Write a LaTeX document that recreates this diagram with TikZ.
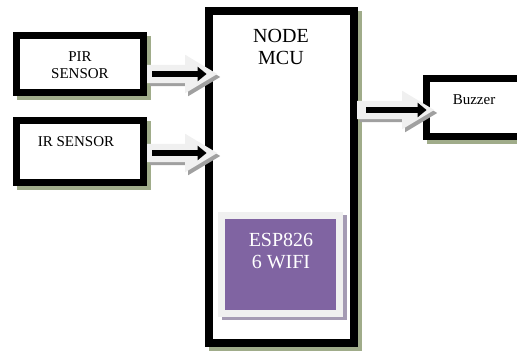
\documentclass[tikz,border=0pt]{standalone}
\usepackage{fontspec}
\setmainfont{Liberation Serif}
\usetikzlibrary{shapes.arrows,arrows.meta}
\definecolor{boxshadow}{RGB}{160,172,138}
\definecolor{arrowfill}{RGB}{240,240,240}
\definecolor{arrowshadow}{RGB}{160,160,160}
\definecolor{esppurple}{RGB}{128,100,162}
\definecolor{espshadow}{RGB}{165,155,180}
\tikzset{
    unitbox/.style={draw=black, fill=white, line width=7pt,
        preaction={draw=boxshadow, fill=boxshadow,
            transform canvas={xshift=3.5pt, yshift=-4pt}}},
    smalltext/.style={font=\fontsize{15}{17.5}\selectfont, align=center},
    bigtext/.style={font=\fontsize{20}{21.5}\selectfont, align=center},
    blockarr/.style={single arrow, fill=arrowfill, inner xsep=0pt, inner ysep=9pt,
        single arrow head extend=10pt, single arrow tip angle=62,
        minimum height=70pt, minimum width=38pt, anchor=tail,
        preaction={fill=arrowshadow, transform canvas={xshift=3pt, yshift=-3pt}}},
    signal/.style={-{Triangle[length=9pt,width=14pt]}, line width=5.5pt, black}
}
\begin{document}
\begin{tikzpicture}[x=1pt, y=-1pt]
        % Page frame, the buzzer box runs past the right edge
        \useasboundingbox (0,0) rectangle (517,352);
        \clip (0,0) rectangle (517,352);

        % Sensor boxes on the left
        \node[unitbox, minimum width=127pt, minimum height=57pt] (pir) at (80,64) {};
        \node[smalltext] (pirtext) at (80,65) {PIR\\SENSOR};
        \node[unitbox, minimum width=127pt, minimum height=62pt] (ir) at (80,151.5) {};
        \node[smalltext] (irtext) at (76,142) {IR SENSOR};

        % Controller box with the wifi chip inside
        \node[unitbox, line width=8pt, minimum width=145pt, minimum height=332pt] (mcu) at (281.5,177) {};
        \node[bigtext] (mcutext) at (281,47) {NODE\\MCU};
        \node[draw=arrowfill, fill=esppurple, line width=7pt,
            minimum width=118pt, minimum height=98pt,
            preaction={draw=espshadow, fill=espshadow,
                transform canvas={xshift=3.5pt, yshift=-3.5pt}}] (esp) at (280.5,264.5) {};
        \node[bigtext, text=white] (esptext) at (281,251) {ESP826\\6 WIFI};

        % Output box on the right
        \node[unitbox, minimum width=100pt, minimum height=58pt] (buzzer) at (476.5,107.5) {};
        \node[smalltext] (buzzertext) at (474,100) {Buzzer};

        % Block arrows with the signal arrow inside
        \node[blockarr] (pirarr) at ([yshift=-10pt]pir.east) {};
        \draw[signal] ([xshift=5pt]pirarr.tail) -- ([xshift=-11pt]pirarr.tip);
        \node[blockarr] (irarr) at ([yshift=-1.5pt]ir.east) {};
        \draw[signal] ([xshift=5pt]irarr.tail) -- ([xshift=-11pt]irarr.tip);
        \node[blockarr, minimum height=77pt] (buzzerarr) at ([xshift=-1pt, yshift=67pt]mcu.east) {};
        \draw[signal] ([xshift=9pt]buzzerarr.tail) -- ([xshift=-8pt]buzzerarr.tip);
    \end{tikzpicture}
\end{document}
